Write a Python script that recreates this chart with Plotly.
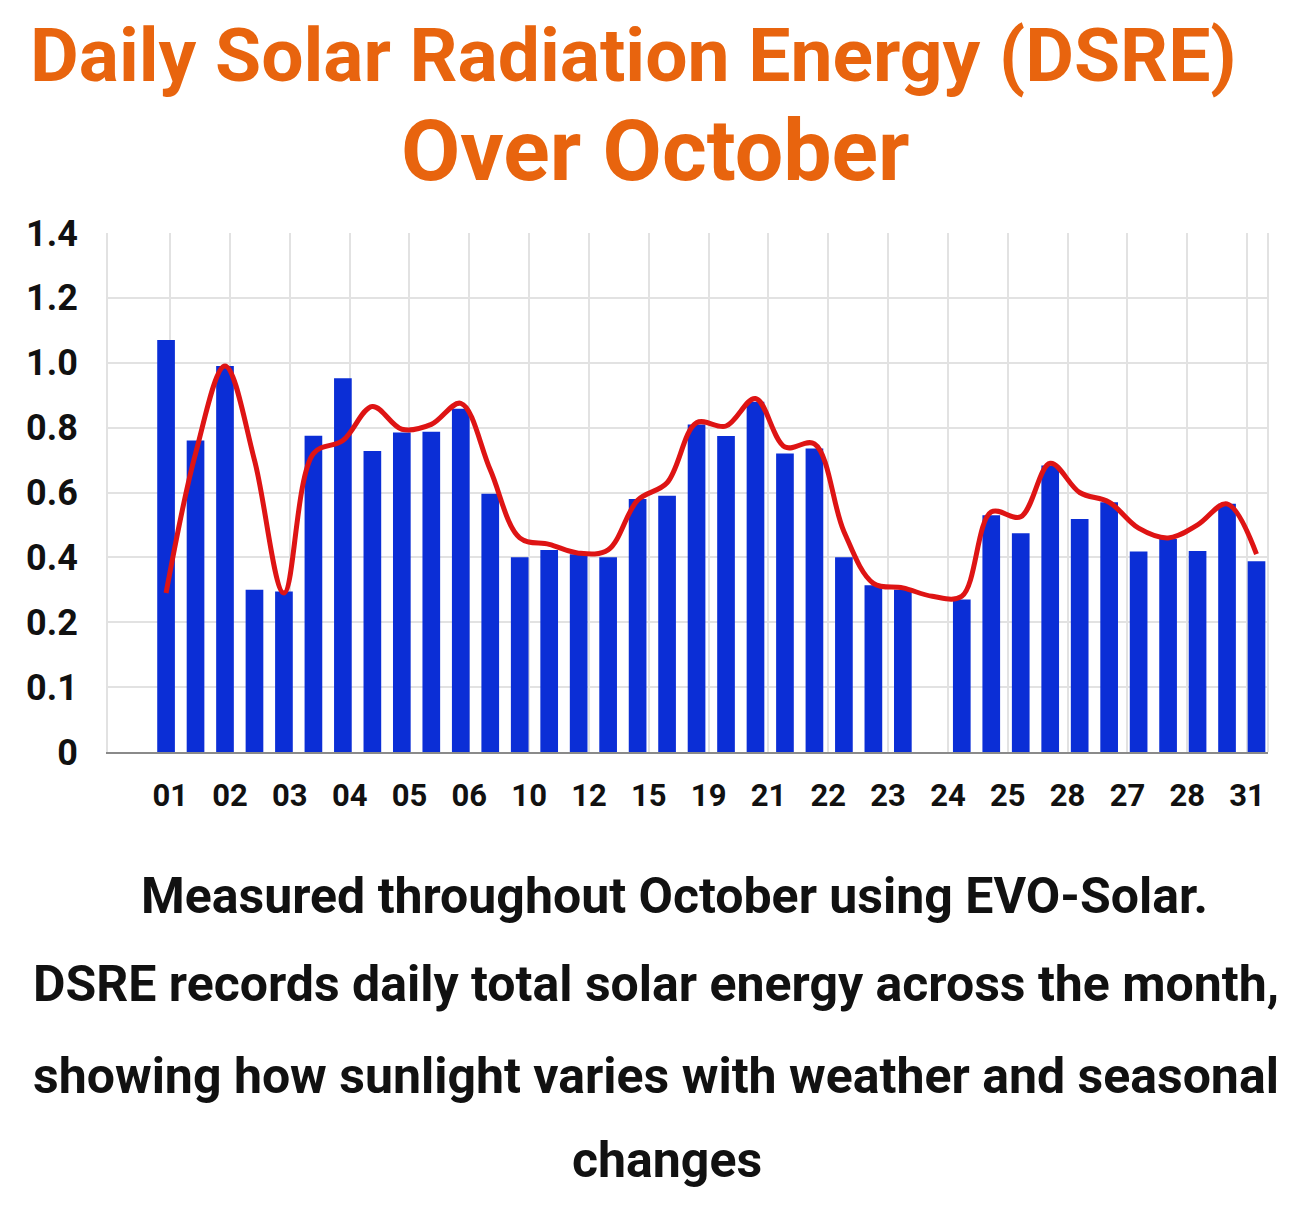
import plotly.graph_objects as go

# --- data ---
# one slot per bar; slot 26 is an empty day between "23" and "25"
bar_values = [1.07, 0.76, 0.99, 0.30, 0.295, 0.775, 0.952, 0.728, 0.785, 0.787,
              0.858, 0.596, 0.40, 0.423, 0.41, 0.40, 0.58, 0.59, 0.81, 0.774,
              0.88, 0.72, 0.736, 0.40, 0.314, 0.30, None, 0.27, 0.53, 0.474,
              0.683, 0.518, 0.57, 0.418, 0.457, 0.42, 0.565, 0.388]
trend_values = [0.29, 0.72, 0.99, 0.70, 0.29, 0.72, 0.76, 0.865, 0.795, 0.81,
                0.875, 0.67, 0.46, 0.44, 0.413, 0.423, 0.576, 0.63, 0.815, 0.805,
                0.89, 0.74, 0.75, 0.48, 0.32, 0.306, 0.28, 0.28, 0.54, 0.525,
                0.69, 0.60, 0.57, 0.49, 0.46, 0.50, 0.565, 0.41]
day_labels = ["01", "02", "03", "04", "05", "06", "10", "12", "15", "19",
              "21", "22", "23", "24", "25", "28", "27", "28", "31"]
y_tick_labels = ["0", "0.1", "0.2", "0.4", "0.6", "0.8", "1.0", "1.2", "1.4"]

title_lines = ["Daily Solar Radiation Energy (DSRE)", "Over October"]
caption_lines = [
    "Measured throughout October using EVO-Solar.",
    "DSRE records daily total solar energy across the month,",
    "showing how sunlight varies with weather and seasonal",
    "changes",
]

slots = list(range(len(bar_values)))
n_labels = len(day_labels)
label_pos = [0.14 + i * (36.68 - 0.14) / (n_labels - 1) for i in range(n_labels)]
# axis is stretched at the bottom: "0" and "0.1" sit one grid step apart below 0.2
y_tick_pos = [-0.2 + 0.2 * i for i in range(len(y_tick_labels))]
AXIS_BASE = -0.2

FONT = "Roboto, Liberation Sans Narrow, DejaVu Sans Condensed, sans-serif"
GRID = "#E2E2E2"

fig = go.Figure()

fig.add_trace(go.Bar(
    x=slots,
    y=[None if v is None else v - AXIS_BASE for v in bar_values],
    base=AXIS_BASE,
    width=0.6,
    marker=dict(color="#0B2ED6", line=dict(width=0)),
    hoverinfo="skip",
))

fig.add_trace(go.Scatter(
    x=slots, y=trend_values,
    mode="lines",
    line=dict(color="#DE1414", width=5, shape="spline", smoothing=1.0),
    hoverinfo="skip",
))

# page body has an 8px margin, so the figure is drawn 8px in from the corner
fig.update_layout(
    width=1292, height=1202,
    margin=dict(l=100, r=32, t=225, b=458),
    paper_bgcolor="white", plot_bgcolor="white",
    showlegend=False,
)

fig.update_xaxes(
    range=[-1.97, 37.39],
    tickmode="array", tickvals=label_pos, ticktext=day_labels,
    tickfont=dict(family=FONT, size=31, color="#111111", weight="bold"),
    ticklabelstandoff=15,
    showgrid=True, gridcolor=GRID, gridwidth=2,
    showline=True, linecolor="#8A8A8A", linewidth=2,
    zeroline=False, ticks="",
)

fig.update_yaxes(
    range=[-0.2, 1.4],
    tickmode="array", tickvals=y_tick_pos, ticktext=y_tick_labels,
    tickfont=dict(family=FONT, size=36, color="#111111", weight="bold"),
    ticklabelstandoff=21,
    showgrid=True, gridcolor=GRID, gridwidth=2,
    showline=True, linecolor=GRID, linewidth=2,
    zeroline=False, ticks="",
)

# right frame line
fig.add_shape(type="line", xref="paper", yref="paper", x0=1, x1=1, y0=0, y1=1,
              line=dict(color=GRID, width=2), layer="below")

title_x = [0.453, 0.4716]
title_y = [1.343, 1.158]
title_size = [75, 86]
for text, xx, yy, sz in zip(title_lines, title_x, title_y, title_size):
    fig.add_annotation(
        text=f"<b>{text}</b>", xref="paper", yref="paper",
        x=xx, y=yy, xanchor="center", yanchor="middle", showarrow=False,
        font=dict(family=FONT, size=sz, color="#E8640E"),
    )

caption_x = [0.488, 0.472, 0.472, 0.482]
caption_y = [-0.2775, -0.447, -0.624, -0.786]
for text, xx, yy in zip(caption_lines, caption_x, caption_y):
    fig.add_annotation(
        text=f"<b>{text}</b>", xref="paper", yref="paper",
        x=xx, y=yy, xanchor="center", yanchor="middle", showarrow=False,
        font=dict(family=FONT, size=50, color="#111111"),
    )

fig.write_html("out.html")
